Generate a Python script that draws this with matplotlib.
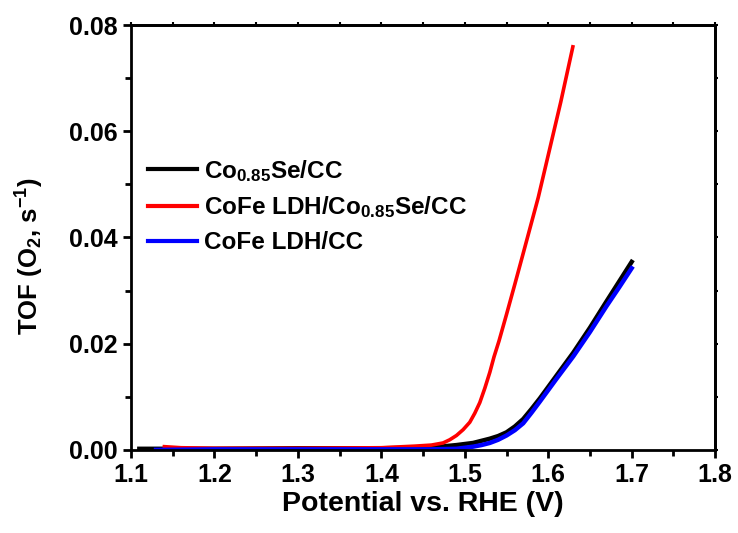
import matplotlib
matplotlib.use("Agg")
import matplotlib.pyplot as plt
from matplotlib.ticker import MultipleLocator

plt.rcParams['font.family'] = ['Liberation Sans', 'DejaVu Sans']
plt.rcParams['font.weight'] = 'bold'
plt.rcParams['mathtext.fontset'] = 'custom'
plt.rcParams['mathtext.rm'] = 'Liberation Sans:bold'
plt.rcParams['mathtext.bf'] = 'Liberation Sans:bold'
plt.rcParams['mathtext.default'] = 'bf'

# Co0.85Se/CC
v_black = [1.11, 1.20, 1.30, 1.40, 1.45, 1.47, 1.49, 1.50, 1.51, 1.52, 1.53, 1.54, 1.55, 1.56, 1.57, 1.58, 1.59, 1.61, 1.63, 1.65, 1.67, 1.685, 1.70]
tof_black = [0.0002, 0.0002, 0.0003, 0.0003, 0.0004, 0.0006, 0.0009, 0.0011, 0.0013, 0.0017, 0.0021, 0.0026, 0.0033, 0.0044, 0.0058, 0.0077, 0.0097, 0.0140, 0.0183, 0.0230, 0.0280, 0.0317, 0.0354]

# CoFe LDH/Co0.85Se/CC
v_red = [1.14, 1.16, 1.20, 1.30, 1.40, 1.44, 1.46, 1.474, 1.482, 1.49, 1.498, 1.506, 1.512, 1.518, 1.524, 1.530, 1.535, 1.541, 1.550, 1.560, 1.570, 1.588, 1.600, 1.615, 1.6295]
tof_red = [0.0006, 0.0004, 0.0003, 0.0003, 0.0004, 0.0007, 0.0009, 0.0013, 0.0019, 0.0027, 0.0038, 0.0052, 0.0069, 0.0089, 0.0116, 0.0146, 0.0175, 0.0205, 0.0255, 0.0312, 0.0370, 0.0475, 0.0555, 0.0655, 0.0759]

# CoFe LDH/CC
v_blue = [1.13, 1.20, 1.30, 1.40, 1.46, 1.49, 1.50, 1.51, 1.52, 1.53, 1.54, 1.55, 1.56, 1.57, 1.58, 1.59, 1.61, 1.63, 1.65, 1.67, 1.685, 1.70]
tof_blue = [0.0000, 0.0001, 0.0001, 0.0001, 0.0001, 0.0002, 0.0004, 0.0006, 0.0009, 0.0013, 0.0019, 0.0027, 0.0037, 0.0050, 0.0070, 0.0091, 0.0134, 0.0176, 0.0222, 0.0271, 0.0306, 0.0342]

fig = plt.figure(figsize=(7.38, 5.33), dpi=100)
ax = fig.add_axes([0.1775, 0.156, 0.7915, 0.797])

ax.plot(v_black, tof_black, color='black', lw=3.2, label=r'Co$_{0.85}$Se/CC')
ax.plot(v_red, tof_red, color='#ff0000', lw=2.6, label=r'CoFe LDH/Co$_{0.85}$Se/CC')
ax.plot(v_blue, tof_blue, color='#0000ff', lw=3.2, label='CoFe LDH/CC')

ax.set_xlim(1.1, 1.8)
ax.set_ylim(0.0, 0.08)
ax.xaxis.set_major_locator(MultipleLocator(0.1))
ax.xaxis.set_minor_locator(MultipleLocator(0.05))
ax.yaxis.set_major_locator(MultipleLocator(0.02))
ax.yaxis.set_minor_locator(MultipleLocator(0.01))
ax.xaxis.set_major_formatter(plt.FuncFormatter(lambda v, p: f"{v:.1f}"))
ax.yaxis.set_major_formatter(plt.FuncFormatter(lambda v, p: f"{v:.2f}"))

for s in ax.spines.values():
    s.set_linewidth(2)
ax.tick_params(which='major', direction='out', length=6, width=2, labelsize=18)
ax.tick_params(which='minor', direction='out', length=4, width=2)

# tiny ticks on top and right
top = ax.secondary_xaxis('top')
right = ax.secondary_yaxis('right')
for sec, loc in ((top, 'x'), (right, 'y')):
    axis = sec.xaxis if loc == 'x' else sec.yaxis
    axis.set_major_locator(MultipleLocator(0.1 if loc == 'x' else 0.02))
    axis.set_minor_locator(MultipleLocator(0.05 if loc == 'x' else 0.01))
    sec.tick_params(which='both', direction='out', length=2, width=1.5, labelsize=0)
    axis.set_major_formatter(plt.NullFormatter())
    for s in sec.spines.values():
        s.set_linewidth(2)

ax.set_xlabel('Potential vs. RHE (V)', fontsize=20.5, fontweight='bold', labelpad=3)
ax.set_ylabel(r'TOF (O$_2$, s$^{-1}$)', fontsize=18.5, fontweight='bold')
ax.yaxis.set_label_coords(-0.145, 0.456)

leg = ax.legend(loc='upper left', bbox_to_anchor=(0.0, 0.728), frameon=False,
                fontsize=17.5, handlelength=2.0, handletextpad=0.3, labelspacing=0.45,
                borderaxespad=0.3)
for line in leg.get_lines():
    line.set_linewidth(3)

fig.savefig('out.png', dpi=100)
